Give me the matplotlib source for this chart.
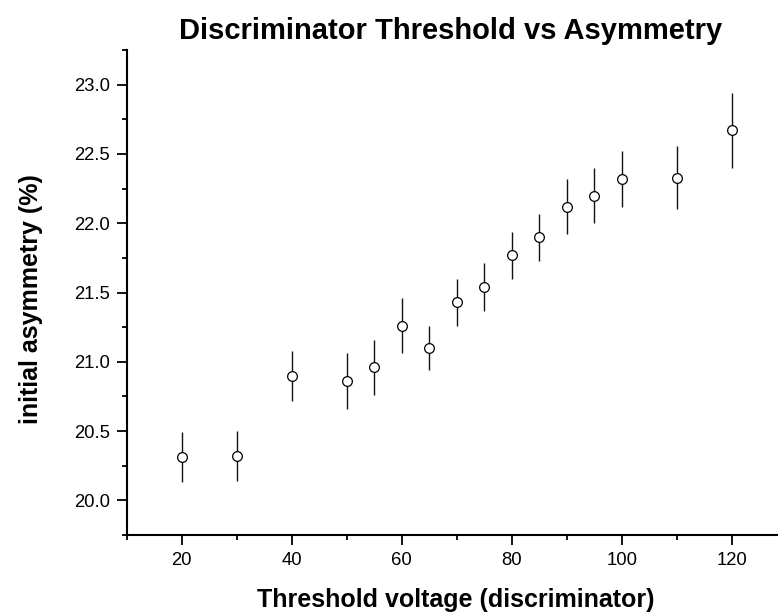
import numpy as np
import matplotlib
matplotlib.use("Agg")
from matplotlib import pyplot as plt
from matplotlib.ticker import MultipleLocator, FormatStrFormatter

plt.rcParams["font.family"] = "Liberation Sans"

# data
threshold = [20, 30, 40, 50, 55, 60, 65, 70, 75, 80, 85, 90, 95, 100, 110, 120]
asymmetry = [20.31, 20.32, 20.90, 20.86, 20.96, 21.26, 21.10, 21.43, 21.54,
             21.77, 21.90, 22.12, 22.20, 22.32, 22.33, 22.67]
asym_err = [0.18, 0.18, 0.18, 0.20, 0.20, 0.20, 0.16, 0.17, 0.17,
            0.17, 0.17, 0.20, 0.20, 0.20, 0.23, 0.27]

fig = plt.figure(figsize=(7.78, 6.13), dpi=100)
ax = fig.add_axes([0.1629, 0.1272, 0.8371, 0.7912])

ax.errorbar(threshold, asymmetry, yerr=asym_err, fmt="o", color="black",
            ecolor="#111111", elinewidth=1.0, capsize=0,
            markersize=7, markerfacecolor="white", markeredgecolor="black",
            markeredgewidth=0.9, zorder=3)

ax.set_xlim(10, 128.4)
ax.set_ylim(19.75, 23.25)

for side in ["top", "right"]:
    ax.spines[side].set_visible(False)
for side in ["left", "bottom"]:
    ax.spines[side].set_linewidth(1.5)

ax.xaxis.set_major_locator(MultipleLocator(20))
ax.xaxis.set_minor_locator(MultipleLocator(10))
ax.yaxis.set_major_locator(MultipleLocator(0.5))
ax.yaxis.set_minor_locator(MultipleLocator(0.25))
ax.yaxis.set_major_formatter(FormatStrFormatter("%.1f"))

ax.tick_params(which="major", direction="out", length=7.2, width=1.3,
               labelsize=13.3, pad=5)
ax.tick_params(which="minor", direction="out", length=3.6, width=1.3)

# titles placed in figure coords to match the reference layout
fig.text(0.579, 0.9494, "Discriminator Threshold vs Asymmetry", fontsize=21,
         fontweight="bold", ha="center", va="center")
fig.text(0.5855, 0.0212, "Threshold voltage (discriminator)", fontsize=18,
         fontweight="bold", ha="center", va="center")
fig.text(0.0398, 0.5122, "initial asymmetry (%)", fontsize=18,
         fontweight="bold", ha="center", va="center", rotation=90)

fig.savefig("out.png", dpi=100)
